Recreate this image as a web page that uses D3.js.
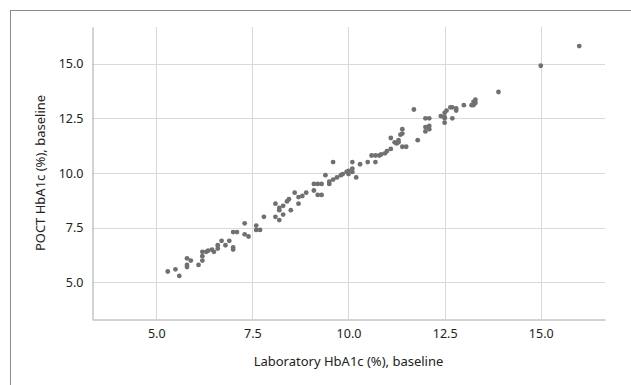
<!DOCTYPE html>
<html>
<head>
<meta charset="utf-8">
<script src="https://cdn.jsdelivr.net/npm/d3@7"></script>
<style>
  html, body { margin: 0; padding: 0; background: #fff; }
  svg { display: block; font-family: "Noto Sans", "Liberation Sans", sans-serif; }
</style>
</head>
<body>
<svg id="chart" width="631" height="385"></svg>
<script>
// Laboratory HbA1c (%) vs POCT HbA1c (%), baseline
const labValues = [
  5.3, 5.5, 5.6, 5.8, 5.9, 5.8, 5.8, 6.1, 6.2, 6.2, 6.2, 6.3, 6.35, 6.45, 6.5,
  6.6, 6.6, 6.7, 6.8, 6.9, 7.0, 7.0, 7.0, 7.1, 7.3, 7.3, 7.4, 7.6, 7.6, 7.7,
  7.8, 8.1, 8.1, 8.2, 8.2, 8.2, 8.3, 8.3, 8.4, 8.45, 8.5, 8.6, 8.7, 8.7, 8.8,
  8.9, 9.1, 9.2, 9.3, 9.1, 9.2, 9.3, 9.4, 9.5, 9.5, 9.6, 9.7, 9.8, 9.6, 9.85,
  9.95, 10.0, 10.1, 10.1, 10.0, 10.1, 10.2, 10.3, 10.5, 10.6, 10.7, 10.8, 10.7, 10.85,
  10.95, 11.0, 11.1, 11.1, 11.2, 11.25, 11.3, 11.35, 11.4, 11.4, 11.3, 11.4, 11.5, 11.7,
  11.8, 12.0, 12.1, 12.0, 12.1, 12.0, 12.1, 12.4, 12.5, 12.5, 12.5, 12.55, 12.65, 12.7,
  12.8, 12.8, 12.7, 12.5, 13.0, 13.2, 13.25, 13.3, 13.3, 13.25, 13.9, 15.0, 16.0
];
const poctValues = [
  5.5, 5.6, 5.3, 6.1, 6.0, 5.7, 5.8, 5.8, 6.4, 6.2, 6.0, 6.4, 6.45, 6.5, 6.4,
  6.55, 6.7, 6.9, 6.7, 6.9, 6.6, 6.5, 7.3, 7.3, 7.7, 7.2, 7.1, 7.6, 7.4, 7.4,
  8.0, 8.6, 8.0, 7.85, 8.3, 8.4, 8.1, 8.5, 8.7, 8.8, 8.3, 9.1, 8.9, 8.6, 8.95,
  9.1, 9.5, 9.5, 9.5, 9.2, 9.0, 9.0, 9.9, 9.5, 9.6, 9.7, 9.8, 9.9, 10.5, 9.95,
  10.05, 10.1, 10.2, 10.05, 9.95, 10.5, 9.8, 10.4, 10.5, 10.8, 10.8, 10.8, 10.5, 10.85,
  10.9, 11.0, 11.1, 11.6, 11.4, 11.35, 11.5, 11.75, 12.0, 11.8, 11.4, 11.2, 11.2, 12.9,
  11.5, 12.5, 12.5, 12.1, 12.15, 11.9, 12.0, 12.6, 12.75, 12.5, 12.3, 12.85, 13.0, 13.0,
  12.85, 12.95, 12.5, 12.55, 13.1, 13.1, 13.1, 13.2, 13.35, 13.25, 13.7, 14.9, 15.8
];
const xTicks = [5.0, 7.5, 10.0, 12.5, 15.0];
const yTicks = [5.0, 7.5, 10.0, 12.5, 15.0];
const xTitle = "Laboratory HbA1c (%), baseline";
const yTitle = "POCT HbA1c (%), baseline";

const svg = d3.select("#chart");
const plot = { left: 92, right: 605, top: 27, bottom: 319 };

const x = d3.scaleLinear().domain([3.33, 16.67]).range([plot.left, plot.right]);
const y = d3.scaleLinear().domain([3.33, 16.67]).range([plot.bottom, plot.top]);

// Outer frame (runs off the right and bottom edges)
svg.append("rect")
  .attr("x", 10.5).attr("y", 10.5)
  .attr("width", 700).attr("height", 500)
  .attr("fill", "none")
  .attr("stroke", "#8a8a8a")
  .attr("stroke-width", 1);

// Gridlines
const grid = svg.append("g").attr("class", "grid");
grid.selectAll("line.gx").data(xTicks).join("line")
  .attr("class", "gx")
  .attr("x1", d => Math.round(x(d)) + 0.5).attr("x2", d => Math.round(x(d)) + 0.5)
  .attr("y1", plot.top).attr("y2", plot.bottom)
  .attr("stroke", "#d9d9d9");
grid.selectAll("line.gy").data(yTicks).join("line")
  .attr("class", "gy")
  .attr("y1", d => Math.round(y(d)) + 0.5).attr("y2", d => Math.round(y(d)) + 0.5)
  .attr("x1", plot.left).attr("x2", plot.right)
  .attr("stroke", "#d9d9d9");

// Axes
const xAxis = svg.append("g")
  .attr("transform", `translate(0,${plot.bottom + 0.5})`)
  .call(d3.axisBottom(x).tickValues(xTicks).tickFormat(d3.format(".1f")).tickSize(0).tickPadding(10));
const yAxis = svg.append("g")
  .attr("transform", `translate(${plot.left + 0.5},0)`)
  .call(d3.axisLeft(y).tickValues(yTicks).tickFormat(d3.format(".1f")).tickSize(0).tickPadding(9));

[xAxis, yAxis].forEach(g => {
  g.select(".domain").attr("stroke", "#a6a6a6");
  g.selectAll("text")
    .attr("fill", "#222")
    .style("font-size", "12.5px")
    .style("font-family", "\"Noto Sans\", sans-serif");
});

// Points
svg.append("g").attr("class", "points")
  .selectAll("circle")
  .data(labValues.map((v, i) => [v, poctValues[i]]))
  .join("circle")
  .attr("cx", d => x(d[0]))
  .attr("cy", d => y(d[1]))
  .attr("r", 2.4)
  .attr("fill", "#707070");

// Axis titles
svg.append("text")
  .attr("x", (plot.left + plot.right) / 2)
  .attr("y", 363)
  .attr("text-anchor", "middle")
  .attr("dominant-baseline", "middle")
  .attr("fill", "#222")
  .style("font-size", "13px")
  .text(xTitle);

svg.append("text")
  .attr("transform", `translate(42,${(plot.top + plot.bottom) / 2}) rotate(-90)`)
  .attr("text-anchor", "middle")
  .attr("dominant-baseline", "middle")
  .attr("fill", "#222")
  .style("font-size", "13px")
  .text(yTitle);
</script>
</body>
</html>
